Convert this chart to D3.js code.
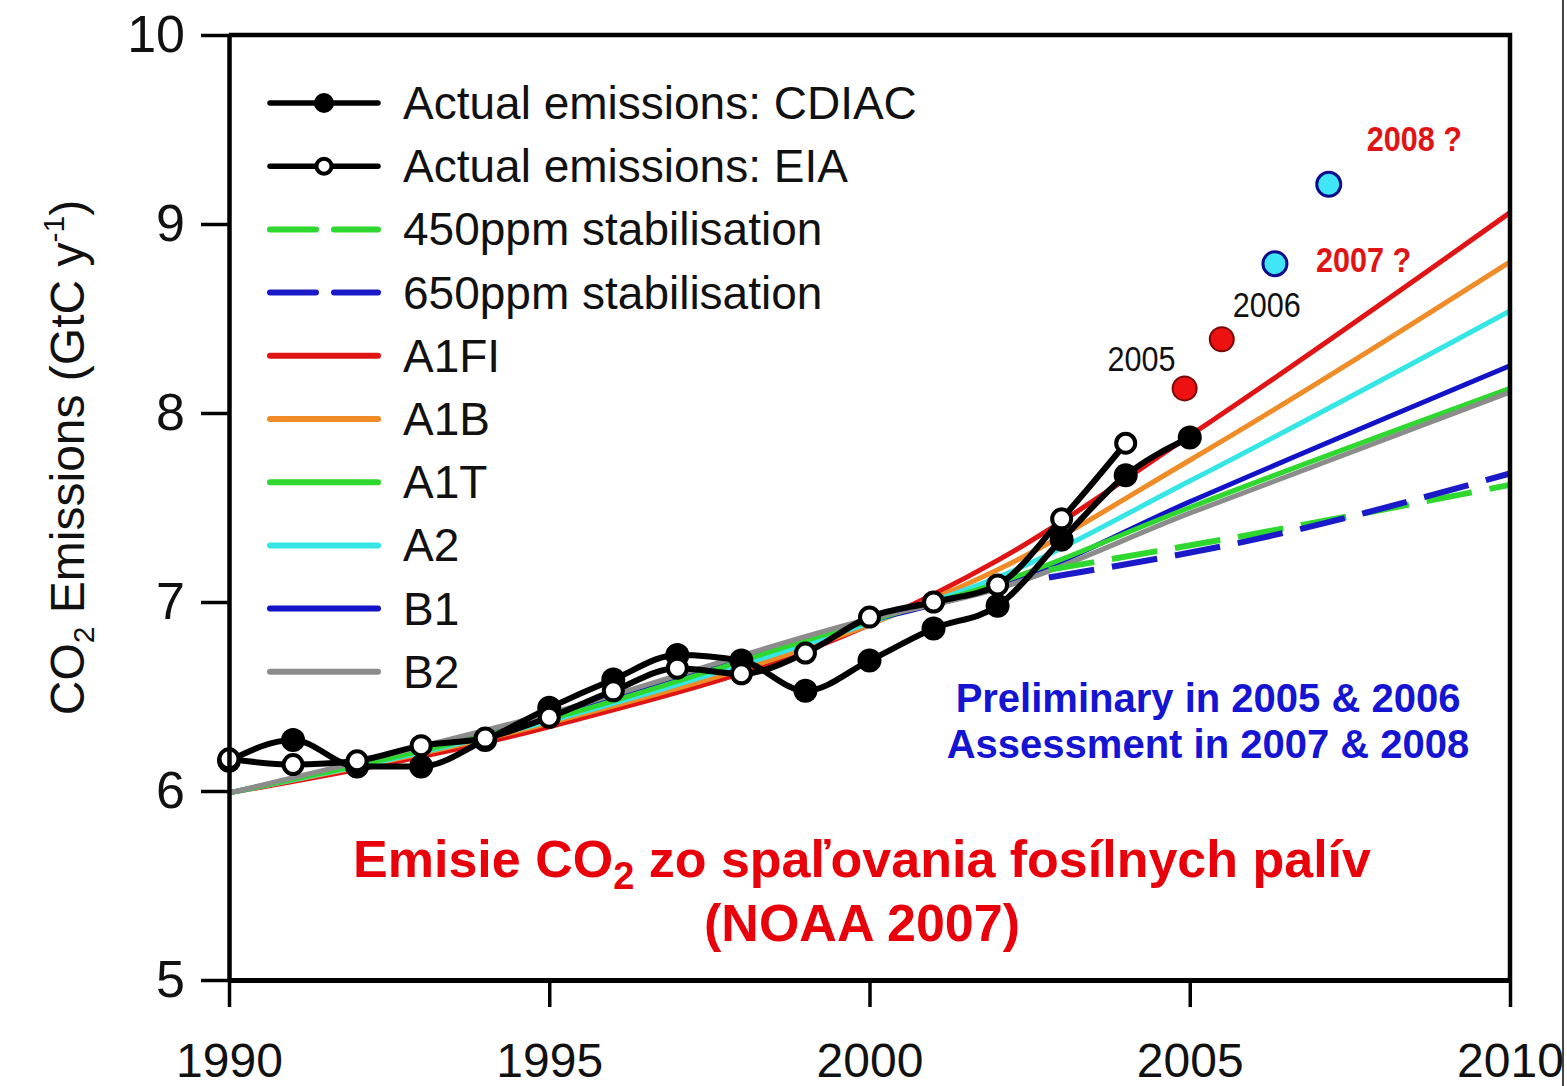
<!DOCTYPE html>
<html>
<head>
<meta charset="utf-8">
<script src="https://cdn.jsdelivr.net/npm/d3@7"></script>
<style>
  html, body { margin: 0; padding: 0; background: #fff; }
  svg { display: block; font-family: "Liberation Sans", Arial, sans-serif; }
</style>
</head>
<body>
<svg id="chart" width="1567" height="1086"></svg>
<script>
// ---- data -------------------------------------------------------------
const yearsCDIAC = [1990, 1991, 1992, 1993, 1994, 1995, 1996, 1997, 1998, 1999, 2000, 2001, 2002, 2003, 2004, 2005];
const valuesCDIAC = [6.16, 6.27, 6.13, 6.13, 6.27, 6.44, 6.59, 6.72, 6.69, 6.53, 6.69, 6.86, 6.98, 7.33, 7.67, 7.87];

const yearsEIA = [1990, 1991, 1992, 1993, 1994, 1995, 1996, 1997, 1998, 1999, 2000, 2001, 2002, 2003, 2004];
const valuesEIA = [6.17, 6.14, 6.16, 6.24, 6.28, 6.39, 6.53, 6.65, 6.62, 6.73, 6.92, 7.00, 7.09, 7.44, 7.84];

// IPCC SRES scenario paths
const scenarioYears = [1990, 1995, 2000, 2002, 2005, 2010];
const scenarioA1FI = [5.99, 6.34, 6.88, 7.22, 7.88, 9.06];
const scenarioA1B  = [5.99, 6.36, 6.88, 7.17, 7.75, 8.80];
const scenarioA1T  = [5.99, 6.38, 6.90, 7.10, 7.50, 8.13];
const scenarioA2   = [5.99, 6.37, 6.89, 7.13, 7.64, 8.54];
const scenarioB1   = [5.99, 6.39, 6.90, 7.08, 7.53, 8.25];
const scenarioB2   = [5.99, 6.41, 6.91, 7.07, 7.47, 8.11];

// stabilisation pathways
const stabYears = [2002.8, 2006, 2010];
const stab450 = [7.17, 7.36, 7.62];
const stab650 = [7.13, 7.33, 7.68];

// preliminary (2005, 2006) and assessed (2007, 2008) estimates
const prelimX = [2004.92, 2005.5];
const prelimY = [8.13, 8.39];
const prelimLabels = ["2005", "2006"];
const assessX = [2006.33, 2007.17];
const assessY = [8.79, 9.21];
const assessLabels = ["2007 ?", "2008 ?"];

const xTicks = [1990, 1995, 2000, 2005, 2010];
const yTicks = [5, 6, 7, 8, 9, 10];

const legendLabels = [
  "Actual emissions: CDIAC", "Actual emissions: EIA",
  "450ppm stabilisation", "650ppm stabilisation",
  "A1FI", "A1B", "A1T", "A2", "B1", "B2"
];

// ---- styles -------------------------------------------------------------
const colors = {
  A1FI: "#e01414", A1B: "#f08c28", A1T: "#2fd82f", A2: "#36e6e6",
  B1: "#1212c8", B2: "#8c8c8c", s450: "#2fd82f", s650: "#1a1ac8"
};

const svg = d3.select("#chart");

const x = d3.scaleLinear().domain([1990, 2010]).range([229, 1510]);
const y = d3.scaleLinear().domain([5, 10]).range([980, 35]);

// thin border line at the right edge of the figure
svg.append("line")
  .attr("x1", 1563).attr("x2", 1563).attr("y1", 0).attr("y2", 1086)
  .attr("stroke", "#444").attr("stroke-width", 2);

// ---- scenario lines -----------------------------------------------------
const scen = [
  { key: "A1FI", v: scenarioA1FI },
  { key: "A1B", v: scenarioA1B },
  { key: "A2", v: scenarioA2 },
  { key: "B1", v: scenarioB1 },
  { key: "A1T", v: scenarioA1T },
  { key: "B2", v: scenarioB2 }
];
const scenLine = d3.line()
  .x(d => x(d[0])).y(d => y(d[1]))
  .curve(d3.curveMonotoneX);

svg.append("g").selectAll("path")
  .data(scen)
  .join("path")
  .attr("d", s => scenLine(scenarioYears.map((yr, i) => [yr, s.v[i]])))
  .attr("fill", "none")
  .attr("stroke", s => colors[s.key])
  .attr("stroke-width", 5);

// stabilisation dashed lines
const stab = [
  { key: "s450", v: stab450 },
  { key: "s650", v: stab650 }
];
svg.append("g").selectAll("path")
  .data(stab)
  .join("path")
  .attr("d", s => scenLine(stabYears.map((yr, i) => [yr, s.v[i]])))
  .attr("fill", "none")
  .attr("stroke", s => colors[s.key])
  .attr("stroke-width", 6)
  .attr("stroke-dasharray", "46,18");

// ---- observed emissions -------------------------------------------------
const dataLine = d3.line()
  .x(d => x(d[0])).y(d => y(d[1]))
  .curve(d3.curveMonotoneX);

const cdiacPts = yearsCDIAC.map((yr, i) => [yr, valuesCDIAC[i]]);
const eiaPts = yearsEIA.map((yr, i) => [yr, valuesEIA[i]]);

svg.append("path").attr("d", dataLine(eiaPts))
  .attr("fill", "none").attr("stroke", "#000").attr("stroke-width", 6);
svg.append("path").attr("d", dataLine(cdiacPts))
  .attr("fill", "none").attr("stroke", "#000").attr("stroke-width", 6);

svg.append("g").selectAll("circle")
  .data(cdiacPts).join("circle")
  .attr("cx", d => x(d[0])).attr("cy", d => y(d[1]))
  .attr("r", 12).attr("fill", "#000");

svg.append("g").selectAll("circle")
  .data(eiaPts).join("circle")
  .attr("cx", d => x(d[0])).attr("cy", d => y(d[1]))
  .attr("r", 9.5).attr("fill", "#fff")
  .attr("stroke", "#000").attr("stroke-width", 4);

// ---- preliminary / assessed estimates ----------------------------------
const prelim = prelimX.map((v, i) => ({ x: v, y: prelimY[i], label: prelimLabels[i] }));
const assess = assessX.map((v, i) => ({ x: v, y: assessY[i], label: assessLabels[i] }));

svg.append("g").selectAll("circle")
  .data(prelim).join("circle")
  .attr("cx", d => x(d.x)).attr("cy", d => y(d.y))
  .attr("r", 12).attr("fill", "#ee1111")
  .attr("stroke", "#7a0a0a").attr("stroke-width", 2);

svg.append("g").selectAll("circle")
  .data(assess).join("circle")
  .attr("cx", d => x(d.x)).attr("cy", d => y(d.y))
  .attr("r", 12).attr("fill", "#3fe6f6")
  .attr("stroke", "#0c0c8c").attr("stroke-width", 3);

// year tags next to the estimate points
const prelimOffsets = [[-9, -17, "end"], [11, -22, "start"]];
svg.append("g").selectAll("text")
  .data(prelim).join("text")
  .attr("transform", (d, i) => `translate(${x(d.x) + prelimOffsets[i][0]},${y(d.y) + prelimOffsets[i][1]}) scale(0.85,1)`)
  .attr("text-anchor", (d, i) => prelimOffsets[i][2])
  .attr("font-size", 36)
  .attr("fill", "#111")
  .text(d => d.label);

const assessOffsets = [[41, 8], [38, -33]];
svg.append("g").selectAll("text")
  .data(assess).join("text")
  .attr("transform", (d, i) => `translate(${x(d.x) + assessOffsets[i][0]},${y(d.y) + assessOffsets[i][1]}) scale(0.85,1)`)
  .attr("font-size", 36)
  .attr("font-weight", "bold")
  .attr("fill", "#e01414")
  .text(d => d.label);

// ---- axes and frame ------------------------------------------------------
const yAxis = d3.axisLeft(y).tickValues(yTicks).tickFormat(d3.format("d"))
  .tickSize(28).tickSizeOuter(0).tickPadding(16);
const gy = svg.append("g").attr("transform", `translate(${x(1990)},0)`).call(yAxis);
gy.select(".domain").attr("stroke-width", 4.5);
gy.selectAll(".tick line").attr("stroke-width", 3.5);
gy.selectAll(".tick text").attr("font-size", 52).attr("font-family", "Liberation Sans, Arial, sans-serif").attr("fill", "#111");

const xAxis = d3.axisBottom(x).tickValues(xTicks).tickSize(27).tickSizeOuter(0).tickPadding(36).tickFormat(d3.format("d"));
const gx = svg.append("g").attr("transform", `translate(0,${y(5)})`).call(xAxis);
gx.select(".domain").attr("stroke-width", 5);
gx.selectAll(".tick line").attr("stroke-width", 3.5);
gx.selectAll(".tick text").attr("font-size", 48).attr("font-family", "Liberation Sans, Arial, sans-serif").attr("fill", "#111");

// top and right frame
svg.append("path")
  .attr("d", `M${x(1990)},${y(10)}H${x(2010)}V${y(5)}`)
  .attr("fill", "none").attr("stroke", "#000").attr("stroke-width", 4.5);

// y axis title
const yTitle = svg.append("text")
  .attr("transform", `translate(84,${(y(5) + y(10)) / 2 - 50}) rotate(-90)`)
  .attr("text-anchor", "middle")
  .attr("font-size", 48)
  .attr("fill", "#111");
yTitle.append("tspan").text("CO");
yTitle.append("tspan").attr("font-size", 30).attr("dy", 10).text("2");
yTitle.append("tspan").attr("dy", -10).text(" Emissions (GtC y");
yTitle.append("tspan").attr("font-size", 30).attr("dy", -20).text("-1");
yTitle.append("tspan").attr("dy", 20).text(")");

// ---- legend ---------------------------------------------------------------
const legendStyles = [
  { stroke: "#000", dash: null, marker: "filled" },
  { stroke: "#000", dash: null, marker: "open" },
  { stroke: colors.s450, dash: "46,18" },
  { stroke: colors.s650, dash: "46,18" },
  { stroke: colors.A1FI }, { stroke: colors.A1B }, { stroke: colors.A1T },
  { stroke: colors.A2 }, { stroke: colors.B1 }, { stroke: colors.B2 }
];
const legend = svg.append("g");
const rows = legend.selectAll("g")
  .data(legendLabels)
  .join("g")
  .attr("transform", (d, i) => `translate(0,${103 + i * 63.2})`);

rows.append("line")
  .attr("x1", 270).attr("x2", 378).attr("y1", 0).attr("y2", 0)
  .attr("stroke", (d, i) => legendStyles[i].stroke)
  .attr("stroke-width", (d, i) => i < 2 ? 5.5 : 6)
  .attr("stroke-linecap", "round")
  .attr("stroke-dasharray", (d, i) => legendStyles[i].dash);

rows.filter((d, i) => legendStyles[i].marker === "filled")
  .append("circle").attr("cx", 324).attr("cy", 0).attr("r", 10).attr("fill", "#000");
rows.filter((d, i) => legendStyles[i].marker === "open")
  .append("circle").attr("cx", 324).attr("cy", 0).attr("r", 7.5)
  .attr("fill", "#fff").attr("stroke", "#000").attr("stroke-width", 4);

rows.append("text")
  .attr("x", 403).attr("y", 16)
  .attr("font-size", 46)
  .attr("fill", "#111")
  .text(d => d);

// ---- notes ------------------------------------------------------------------
svg.append("text")
  .attr("x", 1208).attr("y", 712)
  .attr("text-anchor", "middle").attr("font-size", 40).attr("font-weight", "bold")
  .attr("fill", "#1414d2")
  .text("Preliminary in 2005 & 2006");
svg.append("text")
  .attr("x", 1208).attr("y", 758)
  .attr("text-anchor", "middle").attr("font-size", 40).attr("font-weight", "bold")
  .attr("fill", "#1414d2")
  .text("Assessment in 2007 & 2008");

const title = svg.append("text")
  .attr("x", 862).attr("y", 877)
  .attr("text-anchor", "middle").attr("font-size", 52).attr("font-weight", "bold")
  .attr("fill", "#e8000a");
title.append("tspan").text("Emisie CO");
title.append("tspan").attr("font-size", 38).attr("dy", 12).text("2");
title.append("tspan").attr("dy", -12).text(" zo spaľovania  fosílnych palív");

svg.append("text")
  .attr("x", 862).attr("y", 941)
  .attr("text-anchor", "middle").attr("font-size", 52).attr("font-weight", "bold")
  .attr("fill", "#e8000a")
  .text("(NOAA 2007)");
</script>
</body>
</html>
